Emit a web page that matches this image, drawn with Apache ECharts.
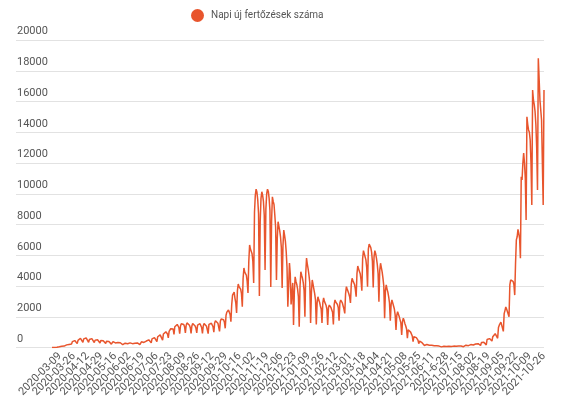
<!DOCTYPE html>
<html>
<head>
<meta charset="utf-8">
<script src="https://cdn.jsdelivr.net/npm/echarts@6/dist/echarts.min.js"></script>
<style>
html,body{margin:0;padding:0;background:#fff;}
#chart{width:575px;height:408px;}
</style>
</head>
<body>
<div id="chart"></div>
<script>
// ---- data ----
const seriesName = 'Napi új fertőzések száma';
const startDate = '2020-03-09';
const missingDates = ['2021-07-20'];
const labelFixes = { '2021-06-28': '2021-6-28' };

const mar2020 = [2, 4, 3, 6, 10, 15, 12, 20, 30, 45, 35, 60, 80, 95, 110, 90, 140, 100, 170, 210, 240, 200, 280];
const apr2020 = [320, 220, 380, 420, 400, 450, 380, 360, 250, 460, 520, 480, 600, 540, 470, 330, 560, 680, 590, 620, 530, 500, 340, 520, 610, 560, 580, 490, 450, 320];
const may2020 = [480, 530, 470, 500, 430, 400, 290, 450, 480, 420, 440, 380, 350, 260, 400, 420, 370, 390, 340, 310, 220, 350, 380, 330, 340, 300, 270, 200, 320, 340, 300];
const jun2020 = [310, 270, 250, 180, 290, 310, 280, 290, 260, 240, 170, 270, 300, 260, 280, 250, 230, 160, 280, 320, 290, 300, 270, 260, 190, 320, 370, 340, 360, 330];
const jul2020 = [310, 230, 420, 480, 450, 500, 460, 420, 300, 560, 620, 580, 640, 590, 540, 380, 700, 780, 740, 820, 760, 690, 480, 880, 980, 930, 1020, 960, 880, 620, 1050];
const aug2020 = [1150, 1220, 1180, 1300, 1200, 850, 1350, 1450, 1380, 1500, 1420, 1300, 900, 1400, 1550, 1480, 1600, 1500, 1350, 950, 1450, 1600, 1500, 1550, 1450, 1300, 920, 1400, 1560, 1480, 1520];
const sep2020 = [1400, 1250, 950, 1450, 1570, 1480, 1550, 1420, 1300, 920, 1400, 1560, 1450, 1520, 1380, 1250, 900, 1500, 1600, 1520, 1580, 1450, 1350, 1000, 1600, 1740, 1650, 1700, 1580, 1450];
const oct2020 = [1050, 1700, 1850, 1780, 1900, 1800, 1650, 1250, 2100, 2300, 2200, 2440, 2300, 2150, 1680, 2800, 3400, 3300, 3600, 3200, 2900, 2240, 3700, 4130, 3950, 4050, 3800, 3500, 2650, 4500, 5170];
const nov2020 = [4900, 5000, 4700, 4300, 3540, 5600, 6670, 6400, 6500, 6100, 5600, 4200, 8800, 9900, 10300, 10100, 9600, 8700, 3350, 8200, 9700, 10130, 9900, 9500, 8600, 5040, 9000, 10000, 10300, 10150];
const dec2020 = [9700, 8900, 3940, 8200, 9800, 9500, 9300, 8600, 7800, 4390, 7100, 8180, 7900, 7600, 7200, 6500, 3870, 6600, 7640, 7300, 6900, 6230, 5200, 2650, 4000, 5490, 4800, 2800, 3500, 4200, 1460];
const jan2021 = [3600, 4600, 4300, 4100, 3800, 3300, 1350, 4000, 4930, 4700, 4500, 4200, 3700, 2000, 4800, 5820, 5400, 5100, 4700, 4200, 1590, 3600, 4390, 4100, 3800, 3500, 3100, 1500, 2900, 3300, 3100];
const feb2021 = [2950, 2700, 2500, 1590, 2900, 3220, 3000, 2900, 2750, 2500, 1460, 2600, 2760, 2700, 2600, 2500, 2300, 1500, 2800, 3090, 2950, 2900, 2800, 2600, 1740, 2900, 3090, 3000];
const mar2021 = [2900, 2700, 2500, 2220, 3500, 3960, 3800, 3700, 3500, 3300, 2900, 4100, 4500, 4350, 4300, 4100, 3800, 3300, 4800, 5300, 5100, 5000, 4800, 4400, 3700, 5800, 6300, 6100, 6000, 5700, 5200];
const apr2021 = [3960, 6400, 6730, 6600, 6500, 6200, 5600, 3900, 5900, 6300, 6100, 5800, 5400, 4800, 2980, 5000, 5480, 5200, 4900, 4500, 4000, 1900, 3700, 4070, 3800, 3600, 3300, 2900, 1740, 2800];
const may2021 = [3090, 2900, 2700, 2500, 2100, 1140, 2100, 2330, 2200, 2000, 1800, 1600, 810, 1700, 1900, 1750, 1550, 1400, 1200, 600, 1150, 1250, 1100, 1000, 900, 750, 380, 700, 810, 720, 640];
const jun2021 = [560, 480, 250, 420, 380, 340, 310, 280, 240, 130, 250, 230, 200, 190, 170, 150, 80, 150, 140, 130, 120, 110, 100, 60, 110, 100, 95, 90, 85, 80];
const jul2021 = [40, 90, 85, 80, 75, 70, 65, 35, 80, 75, 70, 70, 65, 60, 40, 90, 85, 80, 75, 70, 45, 100, 110, 100, 95, 90, 85, 55, 130, 140];
const aug2021 = [150, 140, 130, 120, 70, 170, 190, 180, 175, 165, 150, 90, 230, 260, 240, 250, 230, 210, 130, 320, 350, 330, 340, 310, 280, 170, 520, 600, 560, 580, 520];
const sep2021 = [480, 420, 700, 780, 760, 900, 1000, 950, 600, 1300, 1450, 1500, 1650, 1700, 1600, 1050, 2200, 2400, 2640, 2500, 2600, 2400, 2000, 4070, 4390, 4500, 4450, 4300, 4100, 3410];
const oct2021 = [5480, 7000, 7200, 7690, 7400, 7100, 5800, 11110, 10900, 11980, 12650, 12000, 11000, 8290, 15010, 14500, 14150, 14000, 13500, 12000, 9270, 16750, 16100, 15800, 15350, 14500, 13000, 10240, 18810, 17500, 16100];
const nov2021 = [15450, 14800, 12000, 9270, 16750];

const yMin = 0, yMax = 20000, yStep = 2000;
const labelEvery = 17;

// ---- build ----
const values = [].concat(mar2020, apr2020, may2020, jun2020, jul2020, aug2020, sep2020, oct2020,
  nov2020, dec2020, jan2021, feb2021, mar2021, apr2021, may2021, jun2021, jul2021, aug2021,
  sep2021, oct2021, nov2021);

function buildDates(n) {
  const out = [];
  const p = startDate.split('-').map(Number);
  const d = new Date(Date.UTC(p[0], p[1] - 1, p[2]));
  while (out.length < n) {
    const s = d.toISOString().slice(0, 10);
    if (missingDates.indexOf(s) < 0) out.push(labelFixes[s] || s);
    d.setUTCDate(d.getUTCDate() + 1);
  }
  return out;
}
const dates = buildDates(values.length);

const lineColor = '#e8552d';
const chart = echarts.init(document.getElementById('chart'), null, { renderer: 'canvas' });
chart.setOption({
  animation: false,
  textStyle: { fontFamily: 'Roboto' },
  legend: {
    data: [seriesName],
    left: 186, top: 4,
    icon: 'circle', itemWidth: 13, itemHeight: 13,
    textStyle: { fontSize: 10, color: '#555', padding: [0, 0, 0, 2] }
  },
  grid: [
    { left: 16, right: 31, top: 40, bottom: 60.5 },
    { left: 52, right: 31, top: 40, bottom: 60.5 },
    { left: 60, right: 23, top: 40, bottom: 60.5 }
  ],
  xAxis: [
    { gridIndex: 0, type: 'category', data: dates, show: false },
    { gridIndex: 1, type: 'category', data: dates, boundaryGap: false,
      axisLine: { show: false }, axisTick: { show: false }, axisLabel: { show: false } },
    { gridIndex: 2, type: 'category', data: dates, boundaryGap: false,
      axisLine: { show: false }, axisTick: { show: false },
      axisLabel: {
        interval: 0, rotate: 45, fontSize: 11, color: '#555', margin: 7,
        formatter: function (v, i) { return i % labelEvery === 0 ? v : ''; }
      } }
  ],
  yAxis: [
    { gridIndex: 0, type: 'value', min: yMin, max: yMax, interval: yStep,
      axisLine: { show: false }, axisTick: { show: false },
      splitLine: { lineStyle: { color: '#e2e2e2', width: 1 } },
      axisLabel: { inside: true, margin: 1, verticalAlign: 'bottom', padding: [0, 0, 3, 0], fontSize: 11, color: '#555',
        formatter: function (v) { return String(v); } } },
    { gridIndex: 1, type: 'value', min: yMin, max: yMax, interval: yStep, show: false },
    { gridIndex: 2, type: 'value', min: yMin, max: yMax, interval: yStep, show: false }
  ],
  series: [{
    name: seriesName, type: 'line', xAxisIndex: 1, yAxisIndex: 1,
    data: values, showSymbol: false, symbol: 'circle',
    lineStyle: { width: 1.5, color: lineColor }, itemStyle: { color: lineColor }
  }]
});
</script>
</body>
</html>
